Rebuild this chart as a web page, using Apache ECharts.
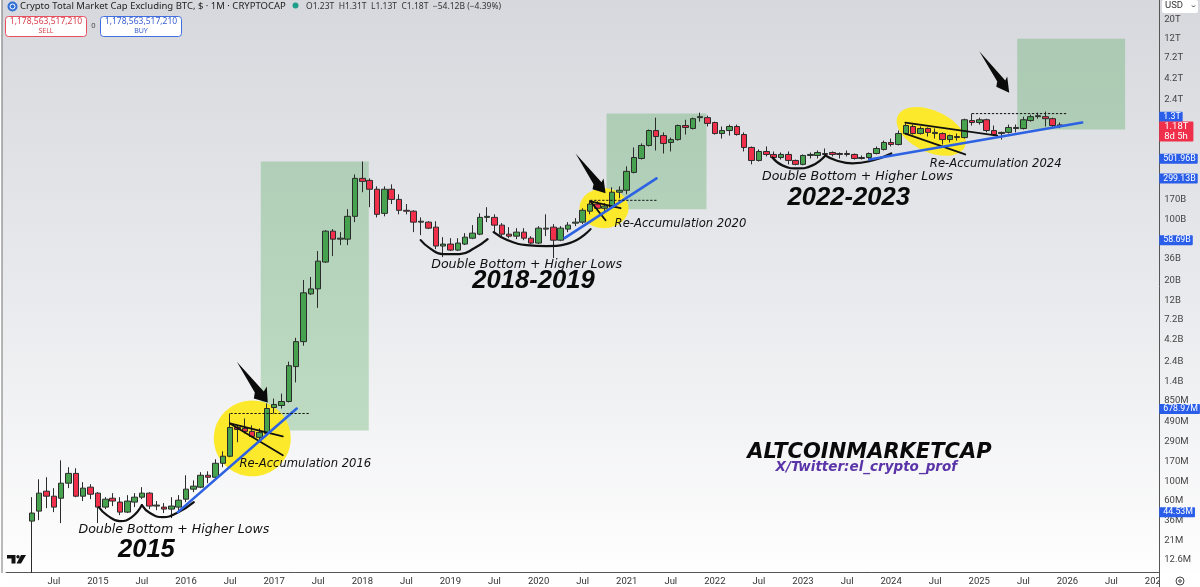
<!DOCTYPE html>
<html>
<head>
<meta charset="utf-8">
<style>html,body{margin:0;padding:0;background:#fff}#main{width:1200px;height:587px}</style>
<script src="https://cdn.jsdelivr.net/npm/echarts@6/dist/echarts.min.js"></script>
</head>
<body>
<div id="main"></div>
<script>
// monthly candles, Apr 2014 - Dec 2025, all prices in USD millions
var priceOpen = [35.2,45.8,77.5,67.9,64.4,95.8,124,67.9,86.2,73.6,50.9,64.4,58.1,44.6,58.1,66.2,73.6,52.3,50.9,48.3,50.9,62.8,81.8,86.2,118,112,162,195,417,407,376,321,356,706,745,828,2080,4020,14200,16200,32900,74400,60200,60200,110000,
  300000,284000,225000,119000,225000,172000,129000,126000,94400,94400,82700,50200,52900,45100,52900,61800,68700,107000,107000,87200,68700,65200,72500,61800,54300,78500,82700,58600,78500,91900,94400,126000,152000,136000,140000,208000,219000,351000,507000,715000,
  1060000,928000,774000,835000,1210000,1120000,1490000,1490000,1310000,979000,1060000,1180000,954000,678000,481000,610000,564000,520000,564000,481000,434000,549000,549000,578000,594000,578000,564000,564000,507000,520000,578000,643000,774000,734000,979000,1180000,979000,1120000,979000,979000,835000,881000,881000,1380000,1310000,1410000,1060000,979000,1010000,1120000,1120000,1380000,1530000,1530000,1450000,1230000];
var priceClose = [43.5,73.6,67.9,50.9,95.8,124,67.9,84,71.6,50.9,62.8,59.7,44.6,59.7,66.2,73.6,52.3,53.7,48.3,52.3,61.1,81.8,88.5,118,112,162,195,417,396,376,329,366,688,765,828,2130,4020,14600,16200,33700,74400,60200,61800,110000,300000,
  277000,225000,116000,225000,172000,129000,126000,94400,96600,80500,50200,52900,45100,54300,63500,70600,107000,110000,87200,68700,65200,72500,61800,54300,80500,80500,58600,80500,87200,94400,129000,152000,136000,144000,208000,219000,361000,520000,715000,1060000,
  905000,754000,835000,1210000,1150000,1450000,1530000,1280000,979000,1060000,1180000,954000,678000,481000,610000,564000,520000,564000,481000,434000,549000,564000,594000,564000,564000,564000,578000,507000,520000,578000,660000,774000,734000,979000,1210000,979000,1120000,1010000,1010000,835000,928000,905000,1410000,1310000,1410000,1060000,954000,1010000,1150000,1150000,1410000,1530000,1570000,1450000,1210000,1180000];
var priceHigh = [66.2,106,112,84,175,146,142,98.4,93.3,75.5,66.2,73.6,66.2,69.8,73.6,86.2,75.5,59.7,56.6,66.2,69.8,118,103,128,131,180,222,603,440,528,440,407,786,894,1020,2370,4450,20500,22200,44000,76400,78500,72500,133000,333000,
  468000,300000,243000,243000,256000,197000,152000,129000,107000,96600,96600,63500,61800,61800,70600,87200,119000,140000,116000,91900,82700,80500,80500,65200,84900,116000,89500,84900,94400,105000,136000,168000,164000,156000,237000,243000,412000,678000,754000,1090000,
  1490000,1010000,881000,1240000,1410000,1490000,1700000,1570000,1340000,1180000,1240000,1240000,1010000,696000,643000,696000,610000,594000,610000,493000,564000,594000,626000,660000,610000,594000,626000,578000,549000,594000,696000,813000,858000,1060000,1280000,1240000,1180000,1150000,1120000,1010000,954000,979000,1450000,1660000,1490000,1450000,1210000,1030000,1240000,1240000,1530000,1610000,1700000,1750000,1490000,1310000];
var priceLow = [8.94,36.1,49.6,44.6,33.4,84,66.2,59.7,62.8,33.4,48.3,52.3,41.2,43.5,50.9,62.8,48.3,47,43.5,38.1,47,58.1,75.5,84,95.8,106,146,190,282,356,321,282,347,603,688,807,1370,3610,13800,9810,32100,38500,51500,51500,94400,
  208000,140000,107000,110000,152000,116000,116000,72500,66900,78500,46300,37500,44000,44000,51500,60200,66900,94400,72500,65200,61800,60200,58600,52900,52900,65200,36500,57100,72500,84900,89500,116000,126000,126000,136000,177000,197000,342000,493000,696000,
  626000,578000,610000,813000,954000,1090000,1340000,1180000,954000,858000,928000,928000,610000,434000,468000,535000,493000,493000,434000,423000,423000,507000,507000,520000,535000,507000,535000,493000,493000,493000,564000,626000,696000,715000,954000,954000,954000,905000,858000,734000,774000,813000,858000,1210000,1240000,1010000,928000,835000,979000,1010000,1090000,1340000,1450000,1180000,1150000,1130000];

var yTicks = [12.6,21,36,60,100,170,290,490,850,1400,2400,4200,7200,12000,20000,36000,100000,170000,2400000,4200000,7200000,12000000,20000000];
var yTickText = ['12.6M','21M','36M','60M','100M','170M','290M','490M','850M','1.4B','2.4B','4.2B','7.2B','12B','20B','36B','100B','170B','2.4T','4.2T','7.2T','12T','20T'];

// price scale tags on the right axis
var tagPrices = [1300000,1178563,501960,299130,58690,678.97,44.53];
var tagText = ['1.3T','1.18T\n8d 5h','501.96B','299.13B','58.69B','678.97M','44.53M'];

// hand drawn annotations, [decimal year, price in USD millions]
var targetBoxes = [
  [[2016.848,468000],[2018.073,386]],
  [[2020.771,1658000],[2021.905,132700]],
  [[2025.431,12000000],[2026.655,1088000]]
];
// yellow blobs: year from, year to, price top, price bottom, tilt in degrees
var blobs = [
  [2016.315,2017.188,848,115,0],
  [2020.465,2021.02,230500,80510,0],
  [2024.036,2024.875,1790000,600000,25]
];
var arrows = [
  [[2016.576,2372],[2016.882,1076],[2016.916,1228],[2016.927,807],[2016.769,894],[2016.78,1048]],
  [[2020.42,578400],[2020.714,270300],[2020.737,299700],[2020.76,202100],[2020.612,224600],[2020.624,256400]],
  [[2025,8580000],[2025.295,3970000],[2025.317,4415000],[2025.34,2881000],[2025.193,3375000],[2025.204,3866000]]
];
var bottomCurves = [
  [[2015.011,50.9],[2015.102,41.2],[2015.249,35.2],[2015.385,39.1],[2015.499,53.7]],
  [[2015.499,53.7],[2015.59,43.5],[2015.737,39.1],[2015.896,43.5],[2016.088,58.1]],
  [[2018.662,58641],[2018.764,47559],[2018.912,40611],[2019.104,40611],[2019.274,47559],[2019.422,60183]],
  [[2019.49,72460],[2019.649,58641],[2019.864,51506],[2020.091,50157],[2020.351,54305],[2020.59,78455]],
  [[2022.653,520400],[2022.766,422500],[2022.937,390100],[2023.107,422500],[2023.254,548500]],
  [[2023.254,548500],[2023.379,480600],[2023.56,445500],[2023.787,480600],[2024.002,578400]]
];
var wedgeLines = [
  [[2016.497,464],[2017.098,329]],
  [[2016.497,464],[2017.098,200]],
  [[2020.59,163500],[2020.93,136300]],
  [[2020.59,163500],[2020.76,99200]],
  [[2024.161,1309000],[2025.204,928200]],
  [[2024.161,978900],[2024.841,563500]]
];
var trendLines = [
  [[2015.907,44.6],[2017.256,688]],
  [[2020.295,61839],[2021.338,299700]],
  [[2023.753,493300],[2026.168,1309000]]
];
var dottedLines = [
  [[2016.508,603],[2017.404,603]],
  [[2020.59,167900],[2021.338,167900]],
  [[2024.921,1658000],[2025.998,1658000]]
];

var patternText = ['Double Bottom + Higher Lows','Double Bottom + Higher Lows','Double Bottom + Higher Lows'];
var patternPos = [[2015.862,27.8],[2019.864,30433],[2023.617,316000]];
var reaccText = ['Re-Accumulation 2016','Re-Accumulation 2020','Re-Accumulation 2024'];
var reaccPos = [[2017.353,158],[2021.61,89535],[2025.187,433900]];
var eraText = ['2015','2018-2019','2022-2023'];
var eraPos = [[2015.55,16.4],[2019.943,19930],[2023.52,177000]];
var titlePos = [[2023.753,216],[2023.719,146]];

var categories = [];
for (var y = 2014; y <= 2026; y++) {
  for (var m = 1; m <= 12; m++) categories.push(y + '-' + (m < 10 ? '0' + m : m));
}
categories.push('2027-01');

var candles = [];
var pad = categories.indexOf('2014-04');
for (var i = 0; i < pad; i++) candles.push('-');
for (var i = 0; i < priceOpen.length; i++) {
  candles.push([priceOpen[i], priceClose[i], priceLow[i], priceHigh[i]]);
}

var UP = '#46a24f', DOWN = '#f0304a', WICK = '#2b2b2b';
var YEAR_MIN = 2014 - 0.5 / 12, YEAR_MAX = YEAR_MIN + categories.length / 12;

function lineSeries(points, color, width, type, smooth) {
  return {
    type: 'line', xAxisIndex: 1, yAxisIndex: 0, data: points, smooth: smooth ? 0.5 : false,
    showSymbol: false, silent: true, z: 6, clip: false,
    lineStyle: { color: color, width: width, type: type || 'solid', cap: 'round' }
  };
}

function labelSeries(points, texts, font) {
  return {
    type: 'scatter', xAxisIndex: 1, yAxisIndex: 0, symbolSize: 0, silent: true, z: 7,
    itemStyle: { opacity: 1 },
    data: points.map(function(p, k) {
      return { value: p, label: { show: true, position: 'inside', formatter: texts[k], color: font.color, fontFamily: font.family,
        fontSize: font.size, fontStyle: 'italic', fontWeight: font.weight } };
    })
  };
}

var series = [];
// yellow highlights below everything
series.push({
  type: 'custom', xAxisIndex: 1, yAxisIndex: 0, silent: true, z: 1, data: blobs,
  renderItem: function(params, api) {
    var a = api.coord([api.value(0), api.value(2)]);
    var b = api.coord([api.value(1), api.value(3)]);
    var cx = (a[0] + b[0]) / 2, cy = (a[1] + b[1]) / 2;
    return {
      type: 'ellipse', x: cx, y: cy, rotation: -api.value(4) * Math.PI / 180,
      shape: { cx: 0, cy: 0, rx: (b[0] - a[0]) / 2, ry: (b[1] - a[1]) / 2 },
      style: { fill: '#fde92c' }
    };
  }
});
// main series with the projected target boxes
series.push({
  name: 'Crypto Total Market Cap Excluding BTC', type: 'candlestick', data: candles, barWidth: 6, z: 4,
  itemStyle: { color: UP, color0: DOWN, borderColor: WICK, borderColor0: WICK, borderWidth: 1 }
});
series.push({
  type: 'line', xAxisIndex: 1, yAxisIndex: 0, data: [], silent: true, z: 2,
  markArea: {
    silent: true, itemStyle: { color: 'rgba(78,168,88,0.32)' },
    data: targetBoxes.map(function(box) {
      return [{ coord: box[0] }, { coord: box[1] }];
    })
  }
});
bottomCurves.forEach(function(c) { series.push(lineSeries(c, '#111', 2.2, 'solid', true)); });
wedgeLines.forEach(function(c) { series.push(lineSeries(c, '#111', 1.8)); });
trendLines.forEach(function(c) { series.push(lineSeries(c, '#2d62e3', 2.6)); });
dottedLines.forEach(function(c) { series.push(lineSeries(c, '#111', 1, [1.5, 2.5])); });
series.push({
  type: 'custom', xAxisIndex: 1, yAxisIndex: 0, silent: true, z: 6, data: arrows.map(function(a, k) { return [k]; }),
  renderItem: function(params, api) {
    var pts = arrows[params.dataIndex].map(function(p) { return api.coord(p); });
    return { type: 'polygon', shape: { points: pts }, style: { fill: '#0b0b0b' } };
  }
});
series.push(labelSeries(patternPos, patternText, { color: '#111', family: 'DejaVu Sans', size: 12.6, weight: 'normal' }));
series.push(labelSeries(reaccPos, reaccText, { color: '#111', family: 'DejaVu Sans', size: 11.6, weight: 'normal' }));
series.push(labelSeries(eraPos, eraText, { color: '#0a0a0a', family: 'Liberation Sans', size: 25.6, weight: 'bold' }));
series.push(labelSeries([titlePos[0]], ['ALTCOINMARKETCAP'], { color: '#0a0a0a', family: 'DejaVu Sans', size: 21, weight: 'bold' }));
series.push(labelSeries([titlePos[1]], ['X/Twitter:el_crypto_prof'], { color: '#5a34a8', family: 'DejaVu Sans', size: 13.5, weight: 'bold' }));
// price tags sit just outside of the plot on the axis
series.push({
  type: 'scatter', xAxisIndex: 1, yAxisIndex: 0, symbolSize: 0, silent: true, z: 9, clip: false,
  itemStyle: { opacity: 1 },
  data: tagPrices.map(function(p, k) {
    var red = k === 1;
    return {
      value: [YEAR_MAX, p],
      label: {
        show: true, position: 'right', distance: 0, formatter: tagText[k], color: '#fff',
        fontFamily: 'Roboto', fontSize: red ? 9.5 : 8.8, lineHeight: red ? 9.5 : 10, fontWeight: 'normal',
        backgroundColor: red ? '#f0304a' : '#2a5ee8', padding: red ? [1, 5, 0, 5] : [0, 2, 0, 4], borderRadius: 1,
        offset: k === 0 ? [0, -6] : (red ? [0, 5] : [0, 0])
      }
    };
  })
});

var chart = echarts.init(document.getElementById('main'));
chart.setOption({
  animation: false,
  backgroundColor: {
    type: 'linear', x: 0, y: 0, x2: 0, y2: 1,
    colorStops: [{ offset: 0, color: '#d6d8dd' }, { offset: 0.5, color: '#e9eaed' }, { offset: 1, color: '#ffffff' }]
  },
  grid: { left: 6.1, right: 40.8, top: 0, bottom: 14.4 },
  xAxis: [{
    type: 'category', data: categories,
    axisLine: { lineStyle: { color: '#555', width: 1 } },
    axisTick: { show: false },
    splitLine: { show: false },
    axisLabel: {
      color: '#333', fontFamily: 'Roboto', fontSize: 9.5, margin: 4, hideOverlap: false,
      interval: function(i, v) { return i > 0 && (v.slice(5) === '01' || v.slice(5) === '07'); },
      formatter: function(v) { return v.slice(5) === '07' ? 'Jul' : v.slice(0, 4); }
    }
  }, {
    type: 'value', min: YEAR_MIN, max: YEAR_MAX, show: false, splitLine: { show: false }
  }],
  yAxis: [{
    type: 'log', logBase: 10, min: 9.03, max: 3.33e7, position: 'right',
    axisLine: { show: true, lineStyle: { color: '#555', width: 1 } },
    axisTick: { show: false },
    splitLine: { show: false },
    axisLabel: {
      customValues: yTicks, color: '#444', fontFamily: 'Roboto', fontSize: 9.5, margin: 5,
      formatter: function(v) {
        var k = yTicks.indexOf(v);
        return k >= 0 ? yTickText[k] : '';
      }
    }
  }],
  series: series,
  graphic: [
    { type: 'rect', z: 50, shape: { x: 0, y: 0, width: 1.5, height: 587 }, style: { fill: '#fff' } },
    { type: 'rect', z: 50, shape: { x: 1.5, y: 0, width: 1, height: 573 }, style: { fill: '#777' } },
    // clips the cut off 2027 label at the price axis
    { type: 'rect', z: 50, shape: { x: 1160, y: 573.5, width: 40, height: 14 }, style: { fill: '#fff' } },
    { type: 'rect', z: 50, shape: { x: 1159, y: 573, width: 1, height: 14 }, style: { fill: '#555' } },
    { type: 'circle', z: 51, shape: { cx: 1180, cy: 581, r: 4 }, style: { fill: 'none', stroke: '#444', lineWidth: 1 } },
    { type: 'circle', z: 51, shape: { cx: 1180, cy: 581, r: 1.3 }, style: { fill: 'none', stroke: '#444', lineWidth: 1 } },
    // usd selector
    { type: 'rect', z: 50, shape: { x: 1162, y: 0, width: 36, height: 13, r: 2 }, style: { fill: '#fff' } },
    { type: 'text', z: 51, x: 1165, y: 6, style: { text: 'USD', fill: '#333', font: '9.5px Roboto', textVerticalAlign: 'middle' } },
    { type: 'polyline', z: 51, shape: { points: [[1192, 5.5], [1193.5, 7], [1195, 5.5]] }, style: { stroke: '#333', lineWidth: 1, fill: 'none' } },
    // header
    { type: 'circle', z: 50, shape: { cx: 12.5, cy: 6.5, r: 5 }, style: { fill: '#2f6fd6' } },
    { type: 'circle', z: 51, shape: { cx: 12.5, cy: 6.5, r: 2.5 }, style: { fill: 'none', stroke: '#fff', lineWidth: 1 } },
    { type: 'text', z: 50, x: 20, y: 6.5, style: { text: 'Crypto Total Market Cap Excluding BTC, $ \u00b7 1M \u00b7 CRYPTOCAP', fill: '#222', font: '9.5px "Noto Sans"', textVerticalAlign: 'middle' } },
    { type: 'circle', z: 50, shape: { cx: 295.5, cy: 5.5, r: 3 }, style: { fill: '#1f9e8a' } },
    { type: 'text', z: 50, x: 306, y: 6.5, style: { text: 'O1.23T  H1.31T  L1.13T  C1.18T  \u221254.12B (\u22124.39%)', fill: '#333', font: '8.5px "Noto Sans"', textVerticalAlign: 'middle' } },
    { type: 'rect', z: 50, shape: { x: 5.5, y: 16.5, width: 81, height: 20, r: 3 }, style: { fill: '#fff', stroke: '#e8505f', lineWidth: 1 } },
    { type: 'text', z: 51, x: 46, y: 21.5, style: { text: '1,178,563,517,210', fill: '#d9404e', font: '8.5px "Noto Sans"', textAlign: 'center', textVerticalAlign: 'middle' } },
    { type: 'text', z: 51, x: 46, y: 31, style: { text: 'SELL', fill: '#d9404e', font: '7px "Noto Sans"', textAlign: 'center', textVerticalAlign: 'middle' } },
    { type: 'text', z: 51, x: 93.5, y: 26, style: { text: '0', fill: '#444', font: '7.5px "Noto Sans"', textAlign: 'center', textVerticalAlign: 'middle' } },
    { type: 'rect', z: 50, shape: { x: 100.5, y: 16.5, width: 81, height: 20, r: 3 }, style: { fill: '#fff', stroke: '#3f6fe0', lineWidth: 1 } },
    { type: 'text', z: 51, x: 141, y: 21.5, style: { text: '1,178,563,517,210', fill: '#3a5fd0', font: '8.5px "Noto Sans"', textAlign: 'center', textVerticalAlign: 'middle' } },
    { type: 'text', z: 51, x: 141, y: 31, style: { text: 'BUY', fill: '#3a5fd0', font: '7px "Noto Sans"', textAlign: 'center', textVerticalAlign: 'middle' } },
    // platform logo
    { type: 'polygon', z: 50, shape: { points: [[7, 555], [15.5, 555], [15.5, 563.5], [11.5, 563.5], [11.5, 558.5], [7, 558.5]] }, style: { fill: '#111' } },
    { type: 'circle', z: 50, shape: { cx: 18, cy: 556.7, r: 1.7 }, style: { fill: '#111' } },
    { type: 'polygon', z: 50, shape: { points: [[21, 555], [26, 555], [21, 563.5], [16.5, 563.5]] }, style: { fill: '#111' } }
  ]
});
</script>
</body>
</html>
